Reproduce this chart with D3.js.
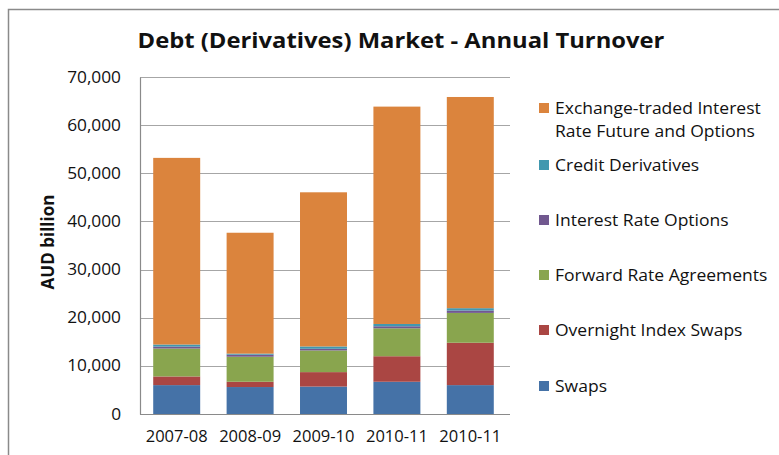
<!DOCTYPE html>
<html>
<head>
<meta charset="utf-8">
<script src="https://cdn.jsdelivr.net/npm/d3@7"></script>
<style>
  html, body { margin: 0; padding: 0; background: #fff; }
  svg { display: block; }
</style>
</head>
<body>
<svg id="chart" width="779" height="455"></svg>
<script>
// Financial years on the category axis
const years = ["2007-08", "2008-09", "2009-10", "2010-11", "2010-11"];

// Annual turnover per instrument, AUD billion (stacked bottom to top)
const swaps = [6000, 5600, 5700, 6700, 6000];
const overnightIndexSwaps = [1800, 1100, 3000, 5300, 8800];
const forwardRateAgreements = [5800, 5200, 4500, 5800, 6200];
const interestRateOptions = [400, 420, 350, 420, 500];
const creditDerivatives = [430, 220, 480, 480, 480];
const exchangeTraded = [38770, 25110, 32020, 45150, 43870];

// Y axis ticks
const yTicks = [0, 10000, 20000, 30000, 40000, 50000, 60000, 70000];

const seriesNames = [
  "Swaps",
  "Overnight Index Swaps",
  "Forward Rate Agreements",
  "Interest Rate Options",
  "Credit Derivatives",
  "Exchange-traded Interest Rate Future and Options"
];
const seriesValues = [swaps, overnightIndexSwaps, forwardRateAgreements,
                      interestRateOptions, creditDerivatives, exchangeTraded];
const colors = ["#4572A7", "#AA4643", "#89A54E", "#71588F", "#4198AF", "#DB843D"];

// Rows for d3.stack, indexed by category position (two categories share a label)
const rows = years.map((y, i) => {
  const r = { idx: i };
  seriesNames.forEach((n, s) => { r[n] = seriesValues[s][i]; });
  return r;
});

const svg = d3.select("#chart");
const font = "'Open Sans', 'Noto Sans', sans-serif";

// Widen a text element horizontally by a factor, keeping it real text
function widen(sel, factor) {
  sel.each(function () {
    const len = this.getComputedTextLength();
    d3.select(this).attr("textLength", len * factor).attr("lengthAdjust", "spacingAndGlyphs");
  });
}

// Outer chart frame
svg.append("rect")
  .attr("x", 8.5).attr("y", 9.5)
  .attr("width", 800).attr("height", 500)
  .attr("fill", "none").attr("stroke", "#8a8a8a").attr("stroke-width", 1.5);

const plot = { left: 140, right: 507, top: 77, bottom: 414 };

const x = d3.scaleBand()
  .domain(d3.range(years.length))
  .range([plot.left, plot.right])
  .paddingInner(0.36).paddingOuter(0.18);

const y = d3.scaleLinear()
  .domain([0, 70000])
  .range([plot.bottom, plot.top]);

// Gridlines
svg.append("g")
  .selectAll("line")
  .data(yTicks.filter(t => t > 0))
  .join("line")
  .attr("x1", plot.left).attr("x2", plot.right + 3)
  .attr("y1", d => Math.round(y(d)) + 0.5).attr("y2", d => Math.round(y(d)) + 0.5)
  .attr("stroke", "#a6a6a6").attr("stroke-width", 1);

// Stacked bars
const stack = d3.stack().keys(seriesNames);
const layers = stack(rows);

svg.append("g")
  .selectAll("g")
  .data(layers)
  .join("g")
  .attr("fill", (d, i) => colors[i])
  .selectAll("rect")
  .data(d => d)
  .join("rect")
  .attr("x", d => x(d.data.idx))
  .attr("width", x.bandwidth())
  .attr("y", d => y(d[1]))
  .attr("height", d => y(d[0]) - y(d[1]));

// Y axis
const yAxis = svg.append("g")
  .attr("transform", `translate(${plot.left},0)`)
  .call(d3.axisLeft(y).tickValues(yTicks).tickSize(0).tickPadding(19)
        .tickFormat(d3.format(",")));
yAxis.select(".domain").attr("stroke", "#8a8a8a").attr("stroke-width", 1.2);
yAxis.selectAll("text")
  .attr("font-family", font).attr("font-size", 16).attr("fill", "#111")
  .call(widen, 1.08);

// X axis
const xAxis = svg.append("g")
  .attr("transform", `translate(0,${plot.bottom})`)
  .call(d3.axisBottom(x).tickSize(0).tickPadding(16).tickFormat(i => years[i]));
xAxis.select(".domain").attr("stroke", "#8a8a8a").attr("stroke-width", 1.2)
  .attr("d", `M${plot.left},0.5H${plot.right + 3}`);
xAxis.selectAll("text")
  .attr("font-family", font).attr("font-size", 16.5).attr("fill", "#111");

// Title
svg.append("text")
  .attr("x", 401).attr("y", 48)
  .attr("text-anchor", "middle")
  .attr("font-family", font).attr("font-weight", "bold").attr("font-size", 20.5)
  .attr("fill", "#111")
  .text("Debt (Derivatives) Market - Annual Turnover")
  .call(widen, 1.16);

// Y axis title
svg.append("text")
  .attr("transform", "translate(54,242) rotate(-90)")
  .attr("text-anchor", "middle")
  .attr("font-family", font).attr("font-weight", "bold").attr("font-size", 17)
  .attr("fill", "#111")
  .text("AUD billion");

// Legend (top series first)
const legendItems = [
  { s: 5, lines: ["Exchange-traded Interest", "Rate Future and Options"], y: 108 },
  { s: 4, lines: ["Credit Derivatives"], y: 165 },
  { s: 3, lines: ["Interest Rate Options"], y: 220 },
  { s: 2, lines: ["Forward Rate Agreements"], y: 275 },
  { s: 1, lines: ["Overnight Index Swaps"], y: 330 },
  { s: 0, lines: ["Swaps"], y: 386 }
];
const legend = svg.append("g");
legendItems.forEach(item => {
  legend.append("rect")
    .attr("x", 539).attr("y", item.y - 5)
    .attr("width", 10).attr("height", 10)
    .attr("fill", colors[item.s]);
  item.lines.forEach((ln, k) => {
    legend.append("text")
      .attr("font-family", font).attr("font-size", 15.5).attr("fill", "#111")
      .attr("x", 555).attr("y", item.y + 5.5 + k * 23.5)
      .text(ln)
      .call(widen, 1.13);
  });
});
</script>
</body>
</html>
